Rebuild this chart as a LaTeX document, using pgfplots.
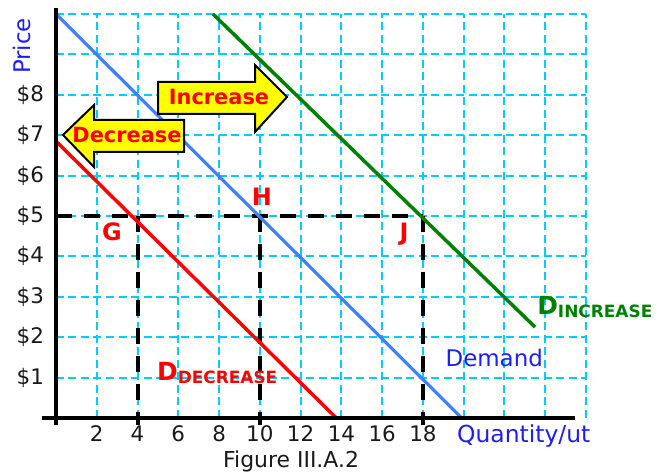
\documentclass[border=0pt]{standalone}
\usepackage{fontspec}
\setmainfont{DejaVu Sans}
\usepackage{pgfplots}
\pgfplotsset{compat=1.18}
\definecolor{gridcyan}{RGB}{0,204,255}
\definecolor{dblue}{RGB}{64,128,250}
\definecolor{tblue}{RGB}{30,30,240}
\definecolor{dgreen}{RGB}{0,128,0}
\definecolor{dred}{RGB}{255,0,0}
\definecolor{ayellow}{RGB}{255,255,0}
\begin{document}
\begin{tikzpicture}[x=1bp,y=1bp]
\path[use as bounding box] (-56,-58) rectangle (613,418);
\begin{axis}[
  at={(0,0)}, anchor=south west,
  scale only axis, width=530bp, height=404bp,
  xmin=0, xmax=26, ymin=0, ymax=10,
  axis line style={draw=none},
  major tick length=0pt,
  major tick style={draw=none},
  tick pos=left,
  grid=none,
  xtick={2,4,...,26},
  xticklabels={2,4,6,8,10,12,14,16,18,{},{},{},{}},
  ytick={1,2,...,10},
  yticklabels={\$1,\$2,\$3,\$4,\$5,\$6,\$7,\$8,{},{}},
  /pgf/number format/assume math mode=true,
  tick label style={font=\fontsize{21.5}{22}\selectfont, text=black!90},
  xticklabel style={anchor=north, yshift=-4bp},
  yticklabel style={anchor=east, xshift=-8.5bp},
  clip=false,
]
% grid
\draw[gridcyan, line width=2bp, dash pattern=on 8bp off 4.5bp]
  foreach \gx in {2,4,...,26} {(axis cs:\gx,0) -- (axis cs:\gx,10)};
\draw[gridcyan, line width=2bp, dash pattern=on 8bp off 4.5bp]
  foreach \gy in {1,2,...,10} {(axis cs:0,\gy) -- (axis cs:26,\gy)};
% reference dashed lines
\addplot[black, line width=4bp, dash pattern=on 16bp off 12bp] coordinates {(0,5) (18,5)};
\addplot[black, line width=4bp, dash pattern=on 16bp off 12bp] coordinates {(4,5) (4,-0.17)};
\addplot[black, line width=4bp, dash pattern=on 16bp off 12bp] coordinates {(10,5) (10,-0.17)};
\addplot[black, line width=4bp, dash pattern=on 16bp off 12bp] coordinates {(18,5) (18,-0.17)};
% demand curves
\addplot[dblue, line width=3.2bp] coordinates {(0,10) (19.9,0)};
\addplot[dred, line width=3.5bp] coordinates {(0,6.85) (13.75,0)};
\addplot[dgreen, line width=3.5bp] coordinates {(7.7,10) (23.5,2.25)};
% labels
\node[dred, font=\fontsize{24}{24}\selectfont\bfseries] at (axis cs:2.75,4.6) {G};
\node[dred, font=\fontsize{24}{24}\selectfont\bfseries] at (axis cs:10.1,5.47) {H};
\node[dred, font=\fontsize{24}{24}\selectfont\bfseries] at (axis cs:17.07,4.55) {J};
\node[tblue, font=\fontsize{23}{23}\selectfont] at (axis cs:21.5,1.49) {Demand};
\node[dgreen, anchor=base west, inner sep=0pt, font=\bfseries] at (axis cs:23.6,2.57)
  {{\fontsize{25}{25}\selectfont D}\raisebox{-3bp}{\fontsize{17}{17}\selectfont INCREASE}};
\node[dred, anchor=base west, inner sep=0pt, font=\bfseries] at (axis cs:4.95,0.94)
  {{\fontsize{25}{25}\selectfont D}\raisebox{-3bp}{\fontsize{17}{17}\selectfont DECREASE}};
\end{axis}
% axis lines
\draw[black, line width=3.5bp] (-14,0) -- (519,0);
\draw[black, line width=3.5bp] (0,-7) -- (0,410);
% axis titles
\node[tblue, rotate=90, font=\fontsize{23}{23}\selectfont] at (-34,372) {Price};
\node[tblue, anchor=base west, inner sep=0pt, font=\fontsize{23.5}{23.5}\selectfont] at (401,-25) {Quantity/ut};
\node[black!90, anchor=base west, inner sep=0pt, font=\fontsize{22}{22}\selectfont] at (167,-50) {Figure III.A.2};
% Increase arrow
\draw[black, line width=2bp, fill=ayellow, line join=miter]
  (102,336) -- (199,336) -- (199,353) -- (231,321) -- (199,286) -- (199,304) -- (102,304) -- cycle;
\node[dred, font=\fontsize{21}{21}\selectfont\bfseries] at (163,321) {Increase};
% Decrease arrow
\draw[black, line width=2bp, fill=ayellow, line join=miter]
  (7,283) -- (38,313) -- (38,298) -- (128,298) -- (128,266) -- (38,266) -- (38,251) -- cycle;
\node[dred, font=\fontsize{21}{21}\selectfont\bfseries] at (71,283) {Decrease};
\end{tikzpicture}
\end{document}
